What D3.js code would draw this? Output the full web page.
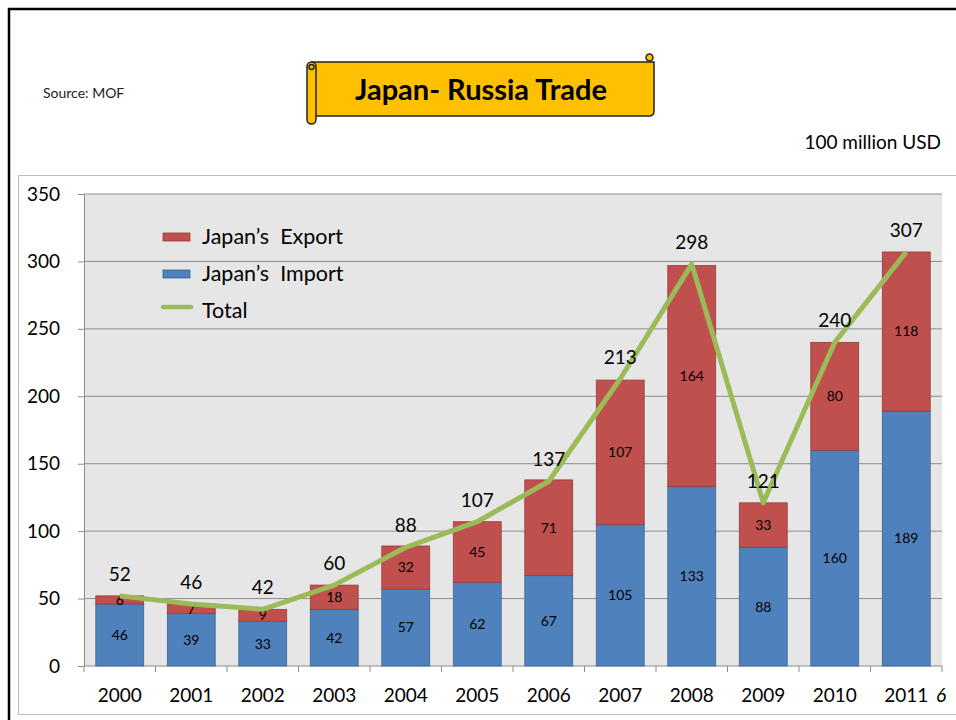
<!DOCTYPE html>
<html>
<head>
<meta charset="utf-8">
<script src="https://cdn.jsdelivr.net/npm/d3@7"></script>
<style>
  body { margin: 0; background: #fff; }
  svg { display: block; font-family: Lato, "Open Sans", sans-serif; }
  svg text { white-space: pre; }
</style>
</head>
<body>
<svg id="chart" width="956" height="720"></svg>
<script>
// Data (100 million USD)
const years = ["2000", "2001", "2002", "2003", "2004", "2005", "2006", "2007", "2008", "2009", "2010", "2011"];
const importVals = [46, 39, 33, 42, 57, 62, 67, 105, 133, 88, 160, 189];
const exportVals = [6, 7, 9, 18, 32, 45, 71, 107, 164, 33, 80, 118];
const totalVals = [52, 46, 42, 60, 88, 107, 137, 213, 298, 121, 240, 307];
const yTicks = [0, 50, 100, 150, 200, 250, 300, 350];

const svg = d3.select("#chart");

// Slide frame
svg.append("path")
    .attr("d", "M9,720 L9,9 L956,9")
    .attr("fill", "none")
    .attr("stroke", "#000")
    .attr("stroke-width", 2.5);

// Chart outer box
svg.append("rect")
    .attr("x", 18.5).attr("y", 175.5)
    .attr("width", 950).attr("height", 539)
    .attr("fill", "#fff")
    .attr("stroke", "#bdbdbd");

// Source
svg.append("text")
    .attr("x", 43).attr("y", 98)
    .attr("font-size", 14)
    .attr("fill", "#222")
    .text("Source: MOF");

// Title scroll
const scroll = svg.append("g").attr("stroke", "#222").attr("stroke-width", 1.5).attr("fill", "#ffc000");
scroll.append("path")
    .attr("d", "M312,62 L654,62 L654,111 Q654,116 649,116 L312,116 Z");
scroll.append("rect")
    .attr("x", 307).attr("y", 62).attr("width", 9).attr("height", 62).attr("rx", 4.5);
scroll.append("circle").attr("cx", 311.5).attr("cy", 67).attr("r", 2.5);
scroll.append("circle").attr("cx", 649.5).attr("cy", 57.5).attr("r", 3.5);
svg.append("text")
    .attr("x", 481).attr("y", 100)
    .attr("text-anchor", "middle")
    .attr("font-size", 29)
    .attr("font-weight", "bold")
    .attr("fill", "#000")
    .text("Japan- Russia Trade");

// Unit
svg.append("text")
    .attr("x", 941).attr("y", 149)
    .attr("text-anchor", "end")
    .attr("font-size", 19)
    .text("100 million USD");

// Scales
const xScale = d3.scaleBand()
    .domain(years)
    .range([84, 942])
    .paddingInner(0.33)
    .paddingOuter(0.165);
const yScale = d3.scaleLinear()
    .domain([0, 350])
    .range([666, 194]);

// Plot background
svg.append("rect")
    .attr("x", 84).attr("y", yScale(350))
    .attr("width", 858).attr("height", yScale(0) - yScale(350))
    .attr("fill", "#e6e6e6");

// Grid
svg.append("g")
    .selectAll("line")
    .data(yTicks)
    .join("line")
    .attr("x1", 84).attr("x2", 942)
    .attr("y1", d => yScale(d)).attr("y2", d => yScale(d))
    .attr("stroke", "#8c8c8c");

// Y axis
const yAxis = svg.append("g")
    .attr("transform", "translate(84,0)")
    .call(d3.axisLeft(yScale).tickValues(yTicks).tickSize(6).tickPadding(18));
yAxis.select(".domain").attr("stroke", "#8c8c8c");
yAxis.selectAll(".tick line").attr("stroke", "#8c8c8c");
yAxis.selectAll("text").attr("font-size", 19).attr("font-family", "Lato, sans-serif").attr("fill", "#000");

// X axis (ticks between categories)
const step = xScale.step();
svg.append("g")
    .selectAll("line")
    .data(d3.range(years.length + 1))
    .join("line")
    .attr("x1", i => 84 + i * step).attr("x2", i => 84 + i * step)
    .attr("y1", 666).attr("y2", 672)
    .attr("stroke", "#8c8c8c");
svg.append("g")
    .selectAll("text")
    .data(years)
    .join("text")
    .attr("x", d => xScale(d) + xScale.bandwidth() / 2)
    .attr("y", 702)
    .attr("text-anchor", "middle")
    .attr("font-size", 19)
    .text(d => d);

// Stacked bars
const rows = years.map((y, i) => ({ year: y, imp: importVals[i], exp: exportVals[i], total: totalVals[i] }));
const bars = svg.append("g");
bars.selectAll(".imp")
    .data(rows)
    .join("rect")
    .attr("class", "imp")
    .attr("x", d => xScale(d.year))
    .attr("y", d => yScale(d.imp))
    .attr("width", xScale.bandwidth())
    .attr("height", d => yScale(0) - yScale(d.imp))
    .attr("fill", "#4f81bd")
    .attr("stroke", "#3a6595")
    .attr("stroke-width", 0.8);
bars.selectAll(".exp")
    .data(rows)
    .join("rect")
    .attr("class", "exp")
    .attr("x", d => xScale(d.year))
    .attr("y", d => yScale(d.imp + d.exp))
    .attr("width", xScale.bandwidth())
    .attr("height", d => yScale(d.imp) - yScale(d.imp + d.exp))
    .attr("fill", "#c0504d")
    .attr("stroke", "#973c3a")
    .attr("stroke-width", 0.8);

// Segment labels
bars.selectAll(".impLabel")
    .data(rows)
    .join("text")
    .attr("x", d => xScale(d.year) + xScale.bandwidth() / 2)
    .attr("y", d => yScale(d.imp / 2))
    .attr("dy", "0.35em")
    .attr("text-anchor", "middle")
    .attr("font-size", 14)
    .text(d => d.imp);
bars.selectAll(".expLabel")
    .data(rows)
    .join("text")
    .attr("x", d => xScale(d.year) + xScale.bandwidth() / 2)
    .attr("y", d => yScale(d.imp + d.exp / 2))
    .attr("dy", "0.35em")
    .attr("text-anchor", "middle")
    .attr("font-size", 14)
    .text(d => d.exp);

// Total line
const line = d3.line()
    .x(d => xScale(d.year) + xScale.bandwidth() / 2)
    .y(d => yScale(d.total));
svg.append("path")
    .datum(rows)
    .attr("d", line)
    .attr("fill", "none")
    .attr("stroke", "#9bbb59")
    .attr("stroke-width", 5)
    .attr("stroke-linejoin", "round");

// Total labels
svg.append("g")
    .selectAll("text")
    .data(rows)
    .join("text")
    .attr("x", d => xScale(d.year) + xScale.bandwidth() / 2)
    .attr("y", d => yScale(d.total) - 15)
    .attr("text-anchor", "middle")
    .attr("font-size", 19)
    .text(d => d.total);

// Legend
const legend = svg.append("g");
const legendItems = [
    { name: "Japan\u2019s  Export", type: "rect", color: "#c0504d", stroke: "#973c3a" },
    { name: "Japan\u2019s  Import", type: "rect", color: "#4f81bd", stroke: "#3a6595" },
    { name: "Total", type: "line", color: "#9bbb59" }
];
legendItems.forEach((d, i) => {
    const cy = 237 + i * 37;
    if (d.type === "rect") {
        legend.append("rect")
            .attr("x", 163).attr("y", cy - 4)
            .attr("width", 27).attr("height", 8)
            .attr("fill", d.color).attr("stroke", d.stroke).attr("stroke-width", 0.8);
    } else {
        legend.append("line")
            .attr("x1", 163).attr("x2", 191)
            .attr("y1", cy - 4).attr("y2", cy - 4)
            .attr("stroke", d.color).attr("stroke-width", 4.5)
            .attr("stroke-linecap", "round");
    }
    legend.append("text")
        .attr("x", 202).attr("y", cy + 7)
        .attr("font-size", 21.5)
        .text(d.name);
});

// Page number
svg.append("text")
    .attr("x", 936).attr("y", 702)
    .attr("font-size", 19)
    .attr("font-style", "italic")
    .text("6");
</script>
</body>
</html>
